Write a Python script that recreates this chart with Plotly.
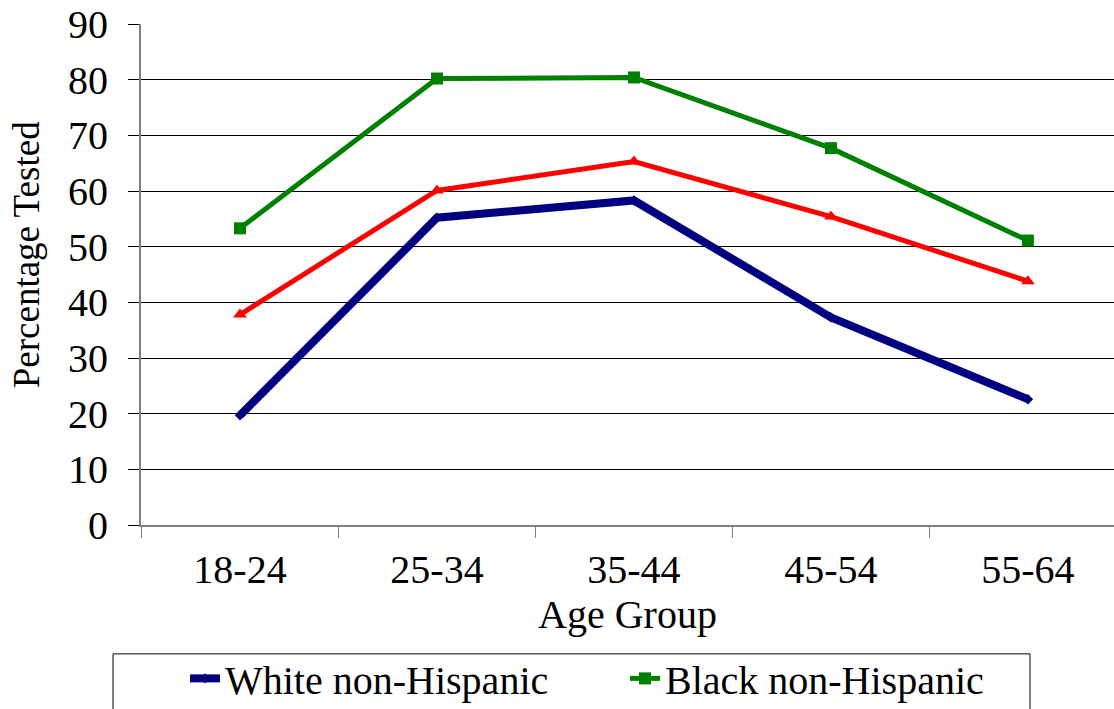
import plotly.graph_objects as go

age_groups = ["18-24", "25-34", "35-44", "45-54", "55-64"]
white_nh = [19.7, 55.2, 58.3, 37.3, 22.6]
black_nh = [53.3, 80.2, 80.4, 67.7, 51.1]
hispanic = [37.8, 60.1, 65.3, 55.4, 43.8]
y_ticks = [0, 10, 20, 30, 40, 50, 60, 70, 80, 90]

FONT = "Liberation Serif"
W, H = 1114, 709
L, T, B = 141, 23.5, 184
plot_w = W - L
plot_h = H - T - B

fig = go.Figure()
fig.add_trace(go.Scatter(
    x=age_groups, y=white_nh, name="White non-Hispanic", mode="lines+markers",
    line=dict(color="#000080", width=8), marker=dict(symbol="diamond", size=8, color="#000080"),
))
fig.add_trace(go.Scatter(
    x=age_groups, y=black_nh, name="Black non-Hispanic", mode="lines+markers",
    line=dict(color="#008000", width=5), marker=dict(symbol="square", size=12, color="#008000"),
))
fig.add_trace(go.Scatter(
    x=age_groups, y=hispanic, name="Hispanic", mode="lines+markers", showlegend=False,
    line=dict(color="#FF0000", width=5), marker=dict(symbol="triangle-up", size=12, color="#FF0000"),
))

def px_x(px):
    return (px - L) / plot_w

def px_y(px):
    return (T + plot_h - px) / plot_h

# legend frame
fig.add_shape(type="rect", xref="paper", yref="paper",
              x0=px_x(113), x1=px_x(1030), y0=px_y(760), y1=px_y(654),
              line=dict(color="black", width=1), fillcolor="white", layer="below")

fig.add_annotation(text="Percentage Tested", xref="paper", yref="paper",
                   x=px_x(26), y=px_y(255), xanchor="center", yanchor="middle",
                   textangle=-90, showarrow=False,
                   font=dict(family=FONT, size=37, color="black"))

fig.update_layout(
    width=W, height=H,
    margin=dict(l=L, r=0, t=T, b=B, autoexpand=False),
    paper_bgcolor="white", plot_bgcolor="white",
    font=dict(family=FONT, color="black"),
    showlegend=True,
    legend=dict(orientation="h", x=px_x(185), xanchor="left", y=px_y(646), yanchor="top",
                font=dict(family=FONT, size=40, color="black"),
                bgcolor="rgba(0,0,0,0)", borderwidth=0,
                entrywidth=395, entrywidthmode="pixels", tracegroupgap=0),
    xaxis=dict(
        type="category", range=[-0.5025, 4.437],
        showgrid=False, showline=True, linecolor="#808080", linewidth=2,
        ticks="outside", tickson="boundaries", ticklen=11, tickcolor="#808080", tickwidth=1,
        tickfont=dict(family=FONT, size=40, color="black"),
        ticklabelstandoff=8,
        title=dict(text="Age Group", font=dict(family=FONT, size=40, color="black"), standoff=6),
    ),
    yaxis=dict(
        range=[0, 90], tickvals=y_ticks, ticktext=[str(v) for v in y_ticks],
        showgrid=True, gridcolor="black", gridwidth=1, zeroline=False,
        showline=True, linecolor="#808080", linewidth=2,
        ticks="outside", ticklen=11, tickcolor="black", tickwidth=1,
        tickfont=dict(family=FONT, size=40, color="black"),
        ticklabelstandoff=12,
    ),
)

fig.write_html("out.html")
